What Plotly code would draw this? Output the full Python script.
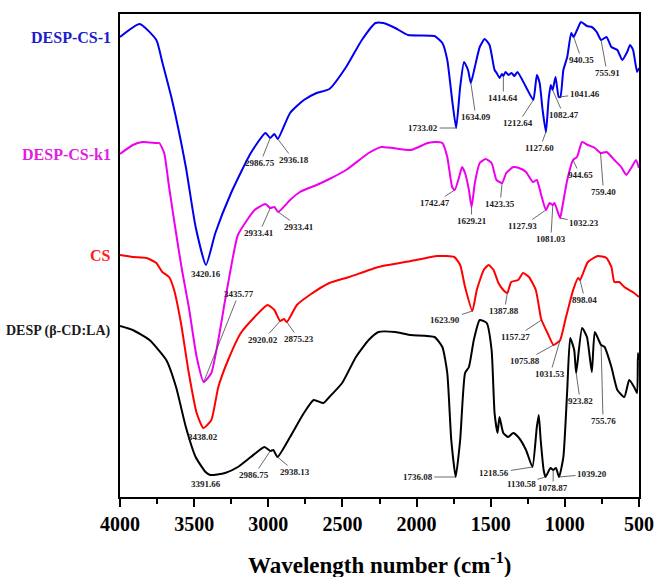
import numpy as np
import plotly.graph_objects as go

# ---------------- spectra (wavenumber, transmittance a.u.) ----------------
cs1_wn = [4000, 3867, 3755, 3715, 3649, 3556, 3490, 3420.16, 3357, 3251, 3118, 3019,
          2986.75, 2959, 2936.18, 2853, 2760, 2674, 2588, 2475, 2369, 2277, 2224, 2144,
          2058, 1879, 1826, 1793, 1760, 1733.02, 1706, 1680, 1653, 1634.09, 1607, 1574,
          1541, 1508, 1474, 1460, 1440, 1425, 1414.64, 1400, 1380, 1360, 1340, 1320,
          1262, 1212.64, 1189, 1170, 1150, 1127.60, 1110, 1095, 1082.47, 1063, 1041.46,
          1030, 1010, 984, 957, 940.35, 918, 891, 851, 818, 785, 755.91, 719, 686, 646,
          613, 580, 560, 540, 513, 500]
cs1_t = [460, 473, 457, 435, 397, 330, 270, 232, 264, 304, 344, 364,
         359, 363, 358, 384, 397, 404, 408, 430, 457, 474, 474, 469,
         462, 461, 454, 437, 397, 369, 410, 435, 427, 414, 430, 450,
         458, 452, 427, 424, 419, 423, 421, 425, 422, 424, 421, 425,
         410, 397, 422, 414, 387, 365, 397, 412, 407, 420, 400,
         400, 427, 440, 464, 460, 467, 475, 471, 470, 465, 457, 460, 450, 447,
         437, 445, 452, 447, 425, 429]

k1_wn = [4000, 3914, 3848, 3755, 3735, 3702, 3669, 3622, 3582, 3536, 3483, 3435.77,
         3384, 3337, 3291, 3251, 3205, 3092, 3019, 2986.75, 2959, 2933.41, 2853, 2787,
         2674, 2588, 2475, 2323, 2237, 2038, 1925, 1859, 1826, 1793, 1760, 1742.47,
         1713, 1693, 1673, 1647, 1629.21, 1607, 1574, 1534, 1494, 1461, 1423.35, 1395,
         1348, 1309, 1262, 1216, 1189, 1163, 1127.93, 1103, 1081.03, 1070, 1032.23,
         1017, 984, 944.65, 918, 884, 845, 798, 759.40, 719, 666, 620, 586, 553, 520, 500]
k1_t = [343, 352, 355, 354, 354, 344, 310, 264, 227, 190, 140, 115,
        124, 157, 197, 230, 262, 287, 293, 289, 290, 285, 297, 305,
        312, 318, 327, 344, 350, 347, 354, 355, 354, 340, 310, 307,
        320, 330, 324, 307, 290, 314, 334, 338, 334, 317, 314, 324,
        330, 329, 325, 315, 317, 304, 287, 294, 292, 294, 279,
        290, 317, 337, 340, 355, 352, 349, 344, 345, 337, 330, 322, 329, 337, 329]

cs_wn = [4000, 3914, 3821, 3755, 3715, 3669, 3635, 3589, 3536, 3483, 3438.02, 3384,
         3337, 3271, 3185, 3092, 3006, 2959, 2920.02, 2894, 2875.23, 2807, 2721, 2588,
         2455, 2257, 2038, 1859, 1746, 1706, 1673, 1623.90, 1594, 1547, 1514, 1481,
         1448, 1415, 1387.88, 1362, 1315, 1282, 1242, 1196, 1163, 1157.27, 1117,
         1075.88, 1031.53, 997, 944, 911, 898.04, 845, 778, 719, 686, 666, 633, 599,
         566, 533, 500]
cs_t = [242, 240, 239, 234, 225, 220, 207, 174, 124, 84, 69, 77,
        110, 137, 164, 180, 192, 187, 176, 178, 175, 192, 202, 214,
        220, 230, 236, 241, 240, 232, 210, 186, 207, 227, 232, 227,
        214, 207, 204, 215, 217, 224, 220, 207, 180, 177, 164,
        152, 157, 177, 207, 219, 217, 235, 241, 239, 230, 215, 215, 210,
        207, 204, 200]

desp_wn = [4000, 3914, 3801, 3688, 3622, 3556, 3490, 3423, 3391.66, 3291, 3205, 3118,
           3026, 2986.75, 2966, 2938.13, 2853, 2760, 2694, 2628, 2588, 2502, 2409, 2323,
           2257, 2144, 2038, 1879, 1826, 1793, 1766, 1736.08, 1706, 1673, 1647, 1614,
           1574, 1527, 1494, 1474, 1454, 1441, 1415, 1382, 1348, 1309, 1262, 1218.56,
           1189, 1176, 1163, 1143, 1130.58, 1097, 1078.87, 1060, 1039.20, 1010, 984,
           964, 937, 923.82, 884, 851, 818, 798, 755.76, 732, 686, 646, 599, 566, 533,
           513, 507, 500]
desp_t = [171, 167, 157, 137, 110, 70, 40, 25, 22, 24, 30, 40,
          50, 46, 47, 40, 60, 84, 97, 94, 100, 114, 140, 157,
          165, 165, 162, 160, 150, 124, 57, 20, 57, 124, 130, 157,
          177, 174, 147, 84, 64, 80, 64, 60, 64, 59, 47, 30,
          70, 82, 57, 27, 20, 29, 27, 29, 20, 40, 107,
          159, 147, 124, 169, 160, 125, 165, 152, 150, 130, 107, 100, 117, 110,
          104, 144, 137]

# ---------------- labelled bands ----------------
cs1_peaks = [3420.16, 2986.75, 2936.18, 1733.02, 1634.09, 1414.64, 1212.64,
             1127.60, 1082.47, 1041.46, 940.35, 755.91]
k1_peaks = [3435.77, 2986.75, 2933.41, 1742.47, 1629.21, 1423.35, 1127.93,
            1081.03, 1032.23, 944.65, 759.40]
k1_peak_text = ["3435.77", "2933.41", "2933.41", "1742.47", "1629.21", "1423.35",
                "1127.93", "1081.03", "1032.23", "944.65", "759.40"]
cs_peaks = [3438.02, 2920.02, 2875.23, 1623.90, 1387.88, 1157.27, 1075.88,
            1031.53, 898.04]
desp_peaks = [3391.66, 2986.75, 2938.13, 1736.08, 1218.56, 1130.58, 1078.87,
              1039.20, 923.82, 755.76]

series_names = ["DESP-CS-1", "DESP-CS-k1", "CS", "DESP (β-CD:LA)"]
x_title = "Wavelength number (cm<sup>-1</sup>)"

# ---------------- styling ----------------
SERIF = "Liberation Serif, Times New Roman, serif"
line_colors = ["#0000ee", "#ee00ee", "#ff0000", "#000000"]
name_colors = ["#1c1ccc", "#e01ee0", "#ff1a1a", "#1a1a1a"]
name_sizes = [16, 16, 16, 14]

# label placement: (dx, dy) pixel offset of the text from the band; None = text right under it
label_offsets = [
    [None, (-10, 25), (16, 21), (-33, 0), (5, 34), (0, 22), (-15, 23), (-6, 16),
     (11, 25), (26, -3), (8, 23), (6, 33)],
    [(35, -88), (-11, 25), (21, 15), (-20, 13), (0, 14), (-2, 21), (-23, 16),
     (-2, 34), (24, 5), (7, 15), (3, 39)],
    [None, (-17, 19), (12, 17), (-27, 9), (-3, 18), (-26, 17), (-29, 16), (-10, 34),
     (5, 20)],
    [None, (-16, 24), (18, 15), (-38, 0), (-38, 6), (-24, 7), (0, 18), (33, -3),
     (4, 28), (2, 76)],
]

spectra = [(cs1_wn, cs1_t), (k1_wn, k1_t), (cs_wn, cs_t), (desp_wn, desp_t)]
peaks = [cs1_peaks, k1_peaks, cs_peaks, desp_peaks]
peak_texts = [[f"{p:.2f}" for p in cs1_peaks], k1_peak_text,
              [f"{p:.2f}" for p in cs_peaks], [f"{p:.2f}" for p in desp_peaks]]

fig = go.Figure()
annotations = []
label_font = dict(family=SERIF, size=9, color="#222222", weight="bold")

for i, (wn, t) in enumerate(spectra):
    fig.add_trace(go.Scatter(x=wn, y=t, mode="lines", name=series_names[i],
                             line=dict(color=line_colors[i], width=2,
                                       shape="spline", smoothing=0.5),
                             showlegend=False, hoverinfo="skip"))
    wn_arr = np.array(wn, dtype=float)[::-1]
    t_arr = np.array(t, dtype=float)[::-1]
    for p, txt, off in zip(peaks[i], peak_texts[i], label_offsets[i]):
        y = float(np.interp(p, wn_arr, t_arr))
        if off is None:
            annotations.append(dict(x=p, y=y, text=txt, showarrow=False,
                                    yshift=-9, xshift=-4 if i == 3 else 0,
                                    font=label_font))
        else:
            annotations.append(dict(x=p, y=y, text=txt, showarrow=True,
                                    ax=off[0], ay=off[1], arrowhead=0,
                                    arrowwidth=0.8, arrowcolor="#444444",
                                    standoff=0, font=label_font))
    # series name at the left of the frame, level with the start of its trace
    annotations.append(dict(x=-0.013, xref="paper", y=t[0] - (5 if i == 3 else 0),
                            yref="y", text=series_names[i], showarrow=False,
                            xanchor="right", yanchor="middle",
                            font=dict(family=SERIF, size=name_sizes[i],
                                      color=name_colors[i], weight="bold")))

# x-axis title, set below the tick labels
annotations.append(dict(x=0.5, xref="paper", y=-0.137, yref="paper", text=x_title,
                        showarrow=False, xanchor="center", yanchor="middle",
                        font=dict(family=SERIF, size=23, color="black",
                                  weight="bold")))

fig.update_layout(
    width=666, height=577,
    margin=dict(l=120, r=18, t=14, b=80),
    paper_bgcolor="white", plot_bgcolor="white",
    annotations=annotations,
    xaxis=dict(
        range=[4000, 500], dtick=500, tick0=500,
        showgrid=False, zeroline=False,
        showline=True, linecolor="black", linewidth=2, mirror=True,
        ticks="outside", ticklen=8, tickwidth=2, tickcolor="black",
        minor=dict(dtick=250, ticks="outside", ticklen=5, tickwidth=2,
                   tickcolor="black"),
        tickfont=dict(family=SERIF, size=20, color="black", weight="bold"),
    ),
    yaxis=dict(
        range=[0, 483], showticklabels=False, ticks="",
        showgrid=False, zeroline=False,
        showline=True, linecolor="black", linewidth=2, mirror=True,
    ),
)

fig.write_html("out.html")
